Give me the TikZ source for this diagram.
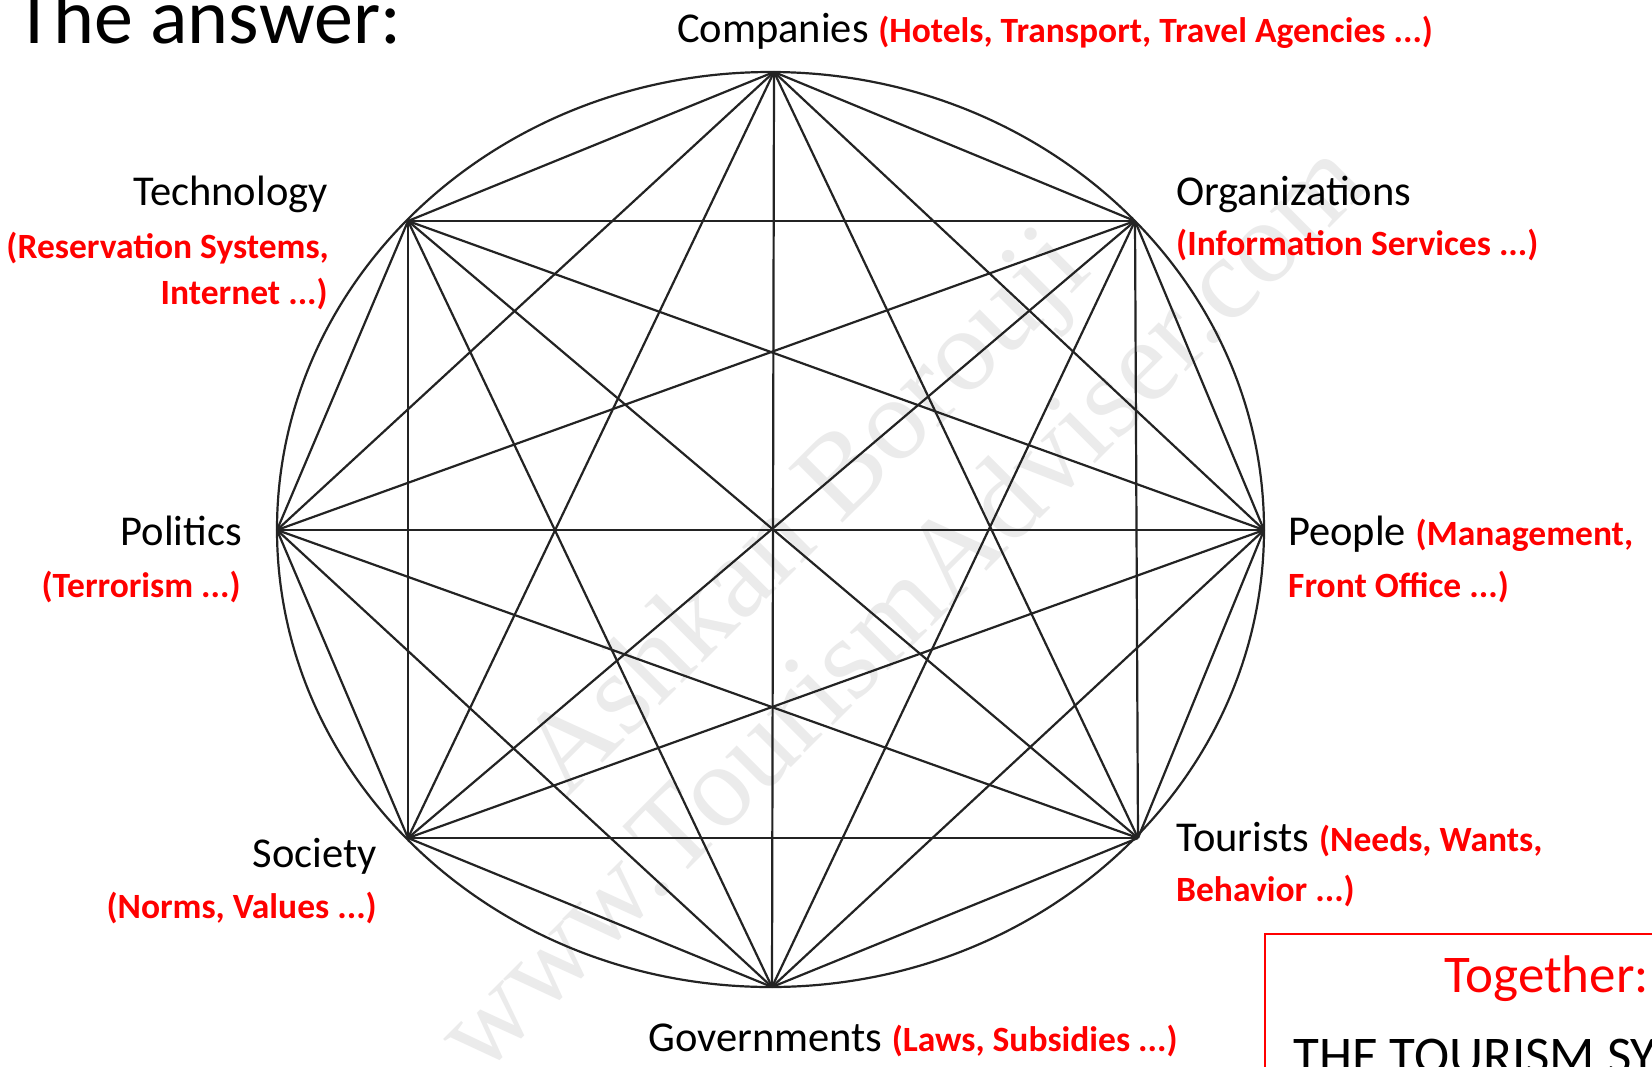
\documentclass[tikz,border=0pt]{standalone}
\usepackage{fontspec}
\setmainfont{Carlito}
\newfontfamily\wmfont{Liberation Serif}
\definecolor{lbl}{RGB}{255,0,0}
\definecolor{edgec}{RGB}{35,35,35}
\tikzset{
  blk/.style={inner sep=0pt, text=black, font=\fontsize{42.5}{48}\selectfont},
  rdl/.style={inner sep=0pt, text=lbl, font=\fontsize{35.5}{40}\selectfont\bfseries},
  edge/.style={draw=edgec, line width=2.2pt},
}
\newcommand\rdt[1]{{\color{lbl}\fontsize{35.5}{40}\selectfont\bfseries #1}}
\begin{document}
\begin{tikzpicture}[x=1pt,y=-1pt]
\useasboundingbox (0,0) rectangle (1652,1066);
\clip (0,0) rectangle (1652,1066);
\fill[white] (0,0) rectangle (1652,1066);
% watermark
\node[text=black!8, font=\wmfont\fontsize{117}{136}\selectfont, align=center, rotate=45, inner sep=0pt] (wm) at (850,556) {Ashkan Borouji\\www.TourismAdviser.com};
% vertices
\coordinate (v1) at (774,72);
\coordinate (v2) at (1135,221);
\coordinate (v3) at (1264,530);
\coordinate (v4) at (1138,838);
\coordinate (v5) at (772,987);
\coordinate (v6) at (408,838);
\coordinate (v7) at (277,530);
\coordinate (v8) at (408,221);
\coordinate (c) at (770.5,529.5);
\draw[edge] (c) ellipse [x radius=493.5, y radius=457.5];
\foreach \i [evaluate=\i as \k using int(\i+1)] in {1,...,7}{
  \foreach \j in {\k,...,8}{\draw[edge] (v\i) -- (v\j);}
}
% title
\node[inner sep=0pt, anchor=base west, font=\fontsize{78}{80}\selectfont] (title) at (15,43) {The answer:};
% labels
\node[blk, anchor=base west] (comp) at (677,42) {Companies \rdt{(Hotels, Transport, Travel Agencies ...)}};
\node[blk, anchor=base east] (tech) at (328,205) {Technology};
\node[rdl, anchor=base east] (tech1) at (329,258) {(Reservation Systems,};
\node[rdl, anchor=base east] (tech2) at (328,304) {Internet ...)};
\node[blk, anchor=base west] (org) at (1176,205) {Organizations};
\node[rdl, anchor=base west] (org1) at (1176,255) {(Information Services ...)};
\node[blk, anchor=base east] (pol) at (242,545) {Politics};
\node[rdl, anchor=base east] (pol1) at (241,597) {(Terrorism ...)};
\node[blk, anchor=base west] (peo) at (1288,545) {People \rdt{(Management,}};
\node[rdl, anchor=base west] (peo1) at (1288,597) {Front Office ...)};
\node[blk, anchor=base east] (soc) at (377,867) {Society};
\node[rdl, anchor=base east] (soc1) at (377,918) {(Norms, Values ...)};
\node[blk, anchor=base west] (tou) at (1176,851) {Tourists \rdt{(Needs, Wants,}};
\node[rdl, anchor=base west] (tou1) at (1176,901) {Behavior ...)};
\node[blk, anchor=base west] (gov) at (648,1051) {Governments \rdt{(Laws, Subsidies ...)}};
% box
\draw[lbl, line width=2.2pt] (1265,934) rectangle (1720,1120);
\node[inner sep=0pt, anchor=base east, text=lbl, font=\fontsize{53}{60}\selectfont] (tog) at (1649,992) {Together:};
\node[inner sep=0pt, anchor=base west, font=\fontsize{53}{60}\selectfont] (sys) at (1293,1073) {THE TOURISM SYSTEM};
\end{tikzpicture}
\end{document}
